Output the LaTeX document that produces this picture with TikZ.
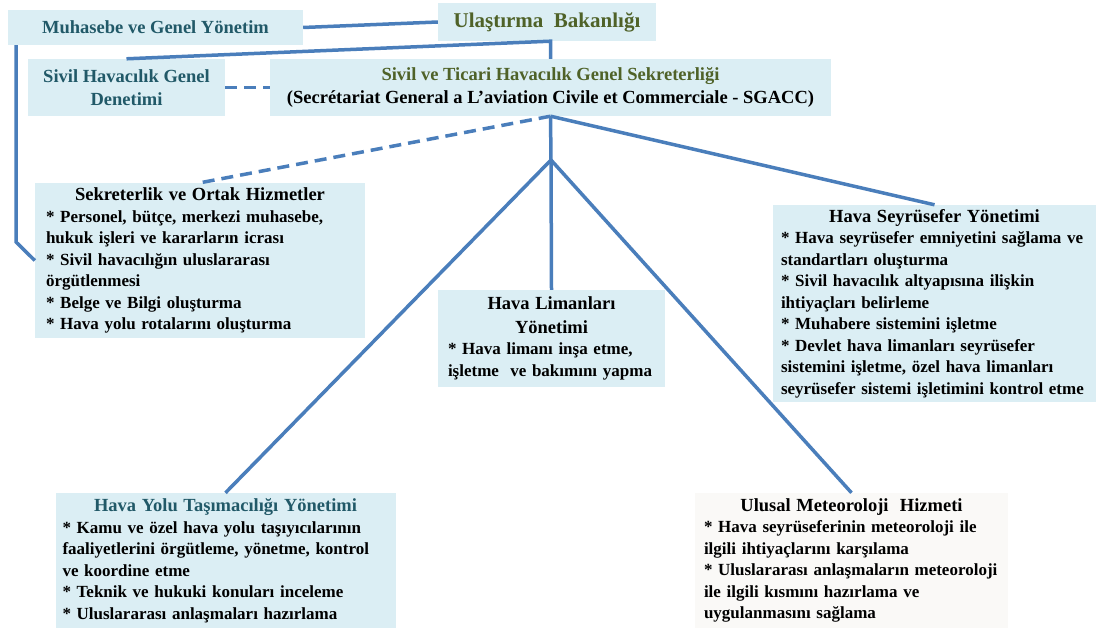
\documentclass[tikz,border=0pt]{standalone}
\usepackage{fontspec}
\setmainfont{Liberation Serif}
\usetikzlibrary{positioning}

\definecolor{boxfill}{HTML}{DBEEF4}
\definecolor{palefill}{HTML}{FAF9F7}
\definecolor{linkblue}{HTML}{4A7EBB}
\definecolor{tealtext}{HTML}{215968}
\definecolor{olivetext}{HTML}{4F6228}

\newcommand{\headsize}{\fontsize{18.5}{23.5}\selectfont}
\newcommand{\itemsize}{\fontsize{17}{21.5}\selectfont}

\tikzset{
  unit/.style={fill=boxfill, font=\bfseries\headsize, align=center, inner sep=0pt},
  duty/.style={fill=boxfill, font=\bfseries\itemsize, align=left, inner ysep=0pt},
  link/.style={draw=linkblue, line width=3.5pt},
  dashlink/.style={link, dash pattern=on 12pt off 7pt},
}

\begin{document}
\begin{tikzpicture}[x=1pt, y=-1pt]
\useasboundingbox (0,0) rectangle (1100,628);

% Top level units
\node[unit, text=tealtext, minimum width=295pt, minimum height=35pt] (muh) at (155.5,27.5) {Muhasebe ve Genel Yönetim};
\node[unit, text=olivetext, font=\bfseries\fontsize{21}{25}\selectfont, minimum width=218pt, minimum height=38pt] (bak) at (547,22) {Ulaştırma\ \ Bakanlığı};
\node[unit, text=tealtext, minimum width=197pt, minimum height=57pt] (denet) at (126.5,87.5) {Sivil Havacılık Genel\\Denetimi};
\node[unit, minimum width=561pt, minimum height=57pt] (sgacc) at (550.5,87.5)
  {\textcolor{olivetext}{Sivil ve Ticari Havacılık Genel Sekreterliği}\\(Secrétariat General a L’aviation Civile et Commerciale - SGACC)};

% Departments
\node[duty, inner xsep=11pt, text width=308pt, minimum height=155pt] (sekr) at (200,260.5)
  {{\centering\headsize Sekreterlik ve Ortak Hizmetler\par}
   {*} Personel, bütçe, merkezi muhasebe,\\
   hukuk işleri ve kararların icrası\\
   {*} Sivil havacılığın uluslararası\\
   örgütlenmesi\\
   {*} Belge ve Bilgi oluşturma\\
   {*} Hava yolu rotalarını oluşturma};
\node[duty, inner xsep=10pt, text width=207pt, minimum height=97pt] (liman) at (551.5,338.5)
  {{\centering\headsize Hava Limanları\\Yönetimi\par}
   {*} Hava limanı inşa etme,\\
   işletme\ \ ve bakımını yapma};
\node[duty, inner xsep=8pt, text width=307pt, minimum height=197pt] (seyr) at (934.5,303.5)
  {{\centering\headsize Hava Seyrüsefer Yönetimi\par}
   {*} Hava seyrüsefer emniyetini sağlama ve\\
   standartları oluşturma\\
   {*} Sivil havacılık altyapısına ilişkin\\
   ihtiyaçları belirleme\\
   {*} Muhabere sistemini işletme\\
   {*} Devlet hava limanları seyrüsefer\\
   sistemini işletme, özel hava limanları\\
   seyrüsefer sistemi işletimini kontrol etme};
\node[duty, inner xsep=7pt, text width=326pt, minimum height=135pt] (yolu) at (225.5,560.5)
  {{\centering\headsize\color{tealtext} Hava Yolu Taşımacılığı Yönetimi\par}
   {*} Kamu ve özel hava yolu taşıyıcılarının\\
   faaliyetlerini örgütleme, yönetme, kontrol\\
   ve koordine etme\\
   {*} Teknik ve hukuki konuları inceleme\\
   {*} Uluslararası anlaşmaları hazırlama};
\node[duty, fill=palefill, inner xsep=9pt, text width=295pt, minimum height=135pt] (meteo) at (851.5,560.5)
  {{\centering\headsize Ulusal Meteoroloji\ \ Hizmeti\par}
   {*} Hava seyrüseferinin meteoroloji ile\\
   ilgili ihtiyaçlarını karşılama\\
   {*} Uluslararası anlaşmaların meteoroloji\\
   ile ilgili kısmını hazırlama ve\\
   uygulanmasını sağlama};

% Connectors
\coordinate (bend) at (16,242);
\coordinate (hub) at (551,160);
\draw[link] (muh.east) -- (bak.west);
\draw[link, line join=miter] (denet.north) -- (sgacc.north |- bak.south) -- (sgacc.north);
\draw[dashlink] (denet.east) -- (sgacc.west);
\draw[link] (bend |- muh.south) -- (bend) -- (sekr.west);
\draw[dashlink] (sgacc.south) -- (sekr.north);
\draw[link] (sgacc.south) -- (seyr.north);
\draw[link] (sgacc.south) -- (hub);
\draw[link] (hub) -- (liman.north);
\draw[link] (hub) -- (yolu.north);
\draw[link] (hub) -- (meteo.north);
\end{tikzpicture}
\end{document}
